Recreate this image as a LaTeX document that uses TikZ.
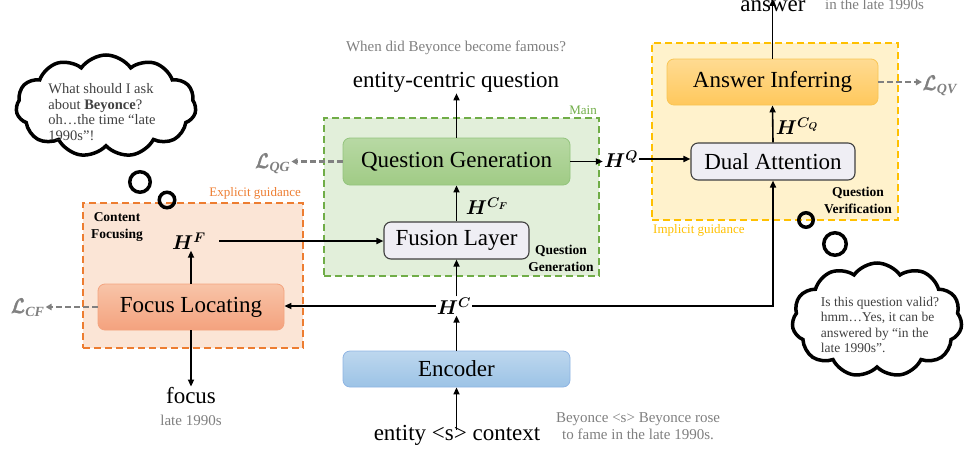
\documentclass[tikz,border=0pt]{standalone}
\usepackage{fix-cm}
\usepackage{amsmath}
\usepackage{fontspec}
\setmainfont{Liberation Serif}
\usetikzlibrary{arrows.meta,shapes.symbols}
\definecolor{orfill}{HTML}{FBE5D6}
\definecolor{orline}{HTML}{ED7D31}
\definecolor{ortop}{HTML}{F8C4A8}
\definecolor{orbot}{HTML}{F4A27E}
\definecolor{orbox}{HTML}{F3A47F}
\definecolor{grfill}{HTML}{E2EFDA}
\definecolor{grline}{HTML}{70AD47}
\definecolor{grtop}{HTML}{B8D9A4}
\definecolor{grbot}{HTML}{A0CB85}
\definecolor{grbox}{HTML}{93C47D}
\definecolor{yefill}{HTML}{FFF2CC}
\definecolor{yeline}{HTML}{FFC000}
\definecolor{yetop}{HTML}{FFDB92}
\definecolor{yebot}{HTML}{FFC85C}
\definecolor{yebox}{HTML}{F9C553}
\definecolor{bltop}{HTML}{BDD7EE}
\definecolor{blbot}{HTML}{9CC3E6}
\definecolor{blbox}{HTML}{8EB4E3}
\definecolor{lavfill}{HTML}{EFEEF4}
\definecolor{txtgray}{HTML}{7F7F7F}
\definecolor{lossgray}{HTML}{808080}
\definecolor{cloudtxt}{HTML}{404040}
\newcommand{\fsBig}{\fontsize{23}{27}\selectfont}
\newcommand{\fsSmall}{\fontsize{15}{18}\selectfont}
\newcommand{\fsCloud}{\fontsize{14.5}{15.6}\selectfont}
\newcommand{\fsTag}{\fontsize{13.5}{16.5}\selectfont}
\newcommand{\fsGuide}{\fontsize{13}{15}\selectfont}
\newcommand{\fsMath}{\fontsize{20}{24}\selectfont}
\newcommand{\losssub}[1]{\text{\bfseries\itshape #1}}
\begin{document}
\begin{tikzpicture}[x=1pt,y=-1pt,
  regionbox/.style={draw, line width=2pt, dash pattern=on 7pt off 4pt, inner sep=0},
  modbox/.style={rounded corners=7pt, line width=0.8pt, inner sep=0, font=\fsBig},
  lavbox/.style={modbox, fill=lavfill, draw=black!75, line width=1.1pt},
  conn/.style={-{Triangle[length=7pt,width=6pt]}, line width=1.6pt},
  lossarr/.style={-{Triangle[length=6pt,width=6.5pt]}, draw=lossgray, line width=2.6pt, dash pattern=on 6pt off 3pt},
  bigtext/.style={font=\fsBig, inner sep=1pt},
  graytext/.style={font=\fsSmall, text=txtgray, inner sep=1pt},
  tag/.style={font=\fsTag\bfseries, align=center, inner sep=0},
  hlabel/.style={font=\fsMath, inner sep=1pt},
  losslabel/.style={font=\fsMath, text=lossgray, inner sep=1pt},
  thought/.style={cloud, draw, line width=3.5pt, inner sep=0},
  bubble/.style={circle, draw, line width=3.5pt, inner sep=0},
  cloudtext/.style={font=\fsCloud, text=cloudtxt, align=left, inner sep=0}
]
\useasboundingbox (0,0) rectangle (966,453);

% regions
\node[regionbox, fill=orfill, draw=orline, minimum width=220pt, minimum height=145pt] (focreg) at (193,275.5) {};
\node[regionbox, fill=grfill, draw=grline, minimum width=275pt, minimum height=158pt] (genreg) at (461.5,197) {};
\node[regionbox, fill=yefill, draw=yeline, minimum width=246pt, minimum height=177pt] (verreg) at (775,131.5) {};

% region labels
\node[font=\fsGuide, text=orline, anchor=east, inner sep=0] (explg) at (301,193) {Explicit guidance};
\node[font=\fsGuide, text=grline, anchor=east, inner sep=0] (mainl) at (597,110) {Main};
\node[font=\fsGuide, text=yeline, anchor=west, inner sep=0] (implg) at (653,230) {Implicit guidance};
\node[tag] (cftag) at (117,227) {Content\\Focusing};
\node[tag] (qgtag) at (561,258.5) {Question\\Generation};
\node[tag] (qvtag) at (858,200.5) {Question\\Verification};

% modules
\node[modbox, top color=ortop, bottom color=orbot, draw=orbox, minimum width=186pt, minimum height=46pt] (focus) at (191,307) {Focus Locating};
\node[modbox, top color=grtop, bottom color=grbot, draw=grbox, minimum width=227pt, minimum height=47pt] (qg) at (456.5,161.5) {Question Generation};
\node[lavbox, minimum width=145pt, minimum height=37pt] (fusion) at (456.5,240.5) {Fusion Layer};
\node[modbox, top color=bltop, bottom color=blbot, draw=blbox, minimum width=227pt, minimum height=36pt] (enc) at (456.5,369) {Encoder};
\node[modbox, top color=yetop, bottom color=yebot, draw=yebox, minimum width=211pt, minimum height=46pt] (ai) at (772.5,82) {Answer Inferring};
\node[lavbox, minimum width=164pt, minimum height=37pt] (dual) at (773,161.5) {Dual Attention};

% hidden state labels
\node[hlabel] (hc) at (454,306) {$\boldsymbol{H^{C}}$};
\node[hlabel] (hf) at (189,241) {$\boldsymbol{H^{F}}$};
\node[hlabel] (hcf) at (487,206) {$\boldsymbol{H^{C_F}}$};
\node[hlabel] (hq) at (621,159) {$\boldsymbol{H^{Q}}$};
\node[hlabel] (hcq) at (797,126) {$\boldsymbol{H^{C_Q}}$};

% losses
\node[losslabel] (lqg) at (273,164) {$\pmb{\mathcal{L}}_{\losssub{QG}}$};
\node[losslabel] (lcf) at (28,308) {$\pmb{\mathcal{L}}_{\losssub{CF}}$};
\node[losslabel] (lqv) at (940,86) {$\pmb{\mathcal{L}}_{\losssub{QV}}$};

% texts
\node[bigtext, anchor=base] (anstxt) at (773,11) {answer};
\node[graytext, anchor=base west] (ansex) at (824,9) {in the late 1990s};
\node[bigtext] (ecq) at (456,82) {entity-centric question};
\node[graytext] (ecqex) at (456,48) {When did Beyonce become famous?};
\node[bigtext] (foctxt) at (191,396) {focus};
\node[graytext] (focex) at (191,420) {late 1990s};
\node[bigtext] (inp) at (457,435) {entity <s> context};
\node[graytext, align=center, font=\fsSmall\linespread{0.95}\selectfont] (inpex) at (638,426.5) {Beyonce <s> Beyonce rose\\to fame in the late 1990s.};

% connectors
\coordinate (inptop) at ([yshift=-6pt]inp.north);
\draw[conn] (inptop -| enc.south) -- (enc.south);
\draw[conn] (enc.north) -- (enc.north |- hc.south);
\draw[conn] (hc.north -| fusion.south) -- (fusion.south);
\draw[conn] (fusion.north) -- (qg.south);
\draw[conn] (qg.north) -- (qg.north |- ecq.south);
\draw[conn] (hc.west) -- (hc.west -| focus.east);
\draw[conn] (hc.east) -- (hc.east -| dual.south) -- (dual.south);
\draw[conn] (focus.north) -- (focus.north |- hf.south);
\draw[conn] (focus.south) -- (focus.south |- foctxt.north);
\draw[conn, shorten <=12pt] (hf.east) -- (hf.east -| fusion.west);
\draw[conn] (qg.east) -- (qg.east -| hq.west);
\draw[conn] (hq.east) -- (hq.east -| dual.west);
\draw[conn] (dual.north) -- (ai.south);
\draw[conn] (ai.north) -- (ai.north |- anstxt.north);
\draw[lossarr] (qg.west) -- (qg.west -| lqg.east);
\draw[lossarr] (focus.west) -- (focus.west -| lcf.east);
\draw[lossarr] (ai.east) -- (ai.east -| lqv.west);

% thought clouds
\node[thought, cloud puffs=11, cloud puff arc=110, aspect=1.8, minimum width=180pt, minimum height=102pt] (cloudl) at (106,106) {};
\node[cloudtext] (cloudltxt) at (102,112) {What should I ask\\about \textbf{Beyonce}?\\oh\ldots the time ``late\\1990s''!};
\node[bubble, minimum size=20.5pt] (bl1) at (140,182) {};
\node[bubble, minimum size=15.5pt] (bl2) at (167,200) {};
\node[thought, cloud puffs=11, cloud puff arc=110, aspect=1.5, minimum width=170pt, minimum height=114pt] (cloudr) at (877,320) {};
\node[cloudtext, font=\fontsize{13.5}{15.5}\selectfont] (cloudrtxt) at (880,325) {Is this question valid?\\hmm\ldots Yes, it can be\\answered by ``in the\\late 1990s''.};
\node[bubble, minimum size=14.5pt] (br1) at (806,220) {};
\node[bubble, minimum size=22.5pt] (br2) at (835,244) {};
\end{tikzpicture}
\end{document}
